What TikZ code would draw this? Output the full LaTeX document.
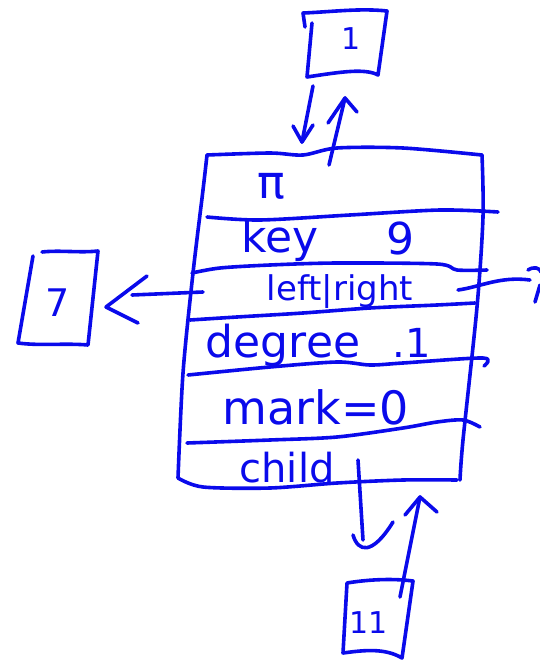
\documentclass[tikz,border=0pt]{standalone}
\usepackage{fontspec}
\setmainfont{DejaVu Sans}
\definecolor{inkc}{RGB}{10,10,235}
\begin{document}
\begin{tikzpicture}[x=1pt,y=-1pt,
  ink/.style={draw=inkc, line width=3.6pt, line cap=round, line join=round},
  lbl/.style={text=inkc, inner sep=0pt, anchor=center},
  fs/.style={font=\fontsize{#1}{#1}\selectfont}]
\useasboundingbox (0,0) rectangle (540,661);

% ---- main box outline
\draw[ink] plot[smooth] coordinates {(207,155) (270,153) (303,155) (337,148) (403,148) (482,155)};
\draw[ink] plot[smooth] coordinates {(207,155) (203,190) (193,273) (183,373) (178,478)};
\draw[ink] plot[smooth] coordinates {(482,155) (483,217) (477,307) (463,440) (460,480)};
\draw[ink] plot[smooth] coordinates {(178,478) (203,487) (270,488) (337,483) (403,480) (457,480)};
% dividers
\draw[ink] plot[smooth] coordinates {(207,217) (260,220) (350,215) (440,210) (498,212)};
\draw[ink] plot[smooth] coordinates {(192,273) (220,268) (270,265) (337,263) (437,264) (457,270) (487,270)};
\draw[ink] plot[smooth] coordinates {(190,320) (237,317) (303,313) (370,308) (437,305) (475,303)};
\draw[ink] plot[smooth] coordinates {(188,375) (270,367) (337,362) (370,365) (403,363) (483,358) (484,366)};
\draw[ink] plot[smooth] coordinates {(187,443) (270,440) (337,437) (403,428) (437,422) (463,420) (480,427)};

% ---- field labels
\node[lbl, fs=46] (pi) at (271,186) {π};
\node[lbl, fs=44] (key) at (280,240) {key};
\node[lbl, fs=44] (nine) at (400,238) {9};
\node[lbl, fs=34] (lr) at (340,292) {left|right};
\node[lbl, fs=44] (deg) at (283,345) {degree};
\node[lbl, fs=40] (degv) at (412,343) {.1};
\node[lbl, fs=46] (mark) at (316,407) {mark=0};
\node[lbl, fs=40] (child) at (287,468) {child};

% ---- top box "1"
\draw[ink] (305,27) -- (303,13) .. controls (330,12) and (360,8) .. (387,11) -- (378,75)
  .. controls (365,68) and (340,72) .. (307,77) -- (312,23);
\node[lbl, fs=30] (one) at (351,39) {1};
\coordinate (t1) at (313,86);  \coordinate (t2) at (302,142);
\coordinate (u1) at (329,165); \coordinate (u2) at (345,98);
\draw[ink] (t1) -- (t2);
\draw[ink] (293,126) -- (t2) -- (313,125);
\draw[ink] (u1) -- (u2);
\draw[ink] (328,123) -- (u2) -- (357,112);

% ---- left box "7"
\draw[ink] (42,252) .. controls (60,250) and (80,253) .. (98,251) -- (88,345)
  .. controls (65,343) and (40,346) .. (18,343) -- (33,256);
\node[lbl, fs=38] (seven) at (58,303) {7};
\coordinate (l1) at (203,292); \coordinate (l2) at (132,295);
\draw[ink] (l1) -- (l2);
\draw[ink] (147,276) -- (106,307) -- (138,323);

% ---- right pointer (cut off at edge)
\coordinate (r1) at (458,290);
\draw[ink] (r1) .. controls (480,287) and (500,276) .. (530,280);
\draw[ink] (528,270) .. controls (534,266) and (540,268) .. (541,272);
\draw[ink] (540,285) -- (535,302);

% ---- bottom box "11"
\draw[ink] (347,583) .. controls (365,580) and (390,578) .. (413,581) -- (402,658)
  .. controls (385,648) and (365,650) .. (343,653) -- (347,583);
\node[lbl, fs=30] (eleven) at (369,623) {11};
\coordinate (c1) at (358,460); \coordinate (c2) at (363,540);
\draw[ink] (c1) -- (c2);
\draw[ink] (353,535) .. controls (358,552) and (372,556) .. (393,522);
\coordinate (b1) at (400,597); \coordinate (b2) at (420,497);
\draw[ink] (b1) -- (b2);
\draw[ink] (405,515) -- (b2) -- (437,512);
\end{tikzpicture}
\end{document}
